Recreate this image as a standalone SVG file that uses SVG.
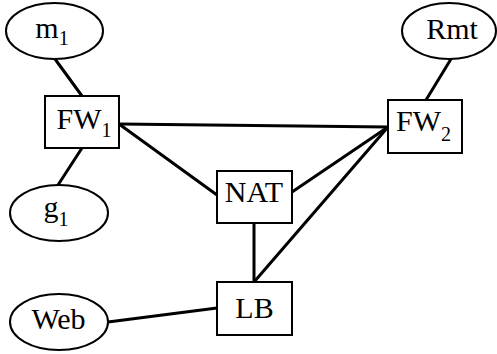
<svg xmlns="http://www.w3.org/2000/svg" width="497" height="354" viewBox="0 0 497 354">
  <style>
    .shape { fill: #ffffff; stroke: #000000; stroke-width: 2; }
    .edge { stroke: #000000; stroke-width: 3; stroke-linecap: round; fill: none; }
    .lbl { font-family: "Liberation Serif", "Times New Roman", serif; font-size: 30px; fill: #000000; text-anchor: middle; }
    .sub { font-size: 20px; }
  </style>
  <rect width="497" height="354" fill="#ffffff"/>

  <!-- links -->
  <g id="connectors">
    <line class="edge" x1="55" y1="59" x2="82" y2="96"/>
    <line class="edge" x1="82" y1="148" x2="58" y2="185"/>
    <line class="edge" x1="119" y1="124" x2="388" y2="127"/>
    <line class="edge" x1="119" y1="124" x2="217" y2="195"/>
    <line class="edge" x1="451" y1="59" x2="426" y2="100"/>
    <line class="edge" x1="388" y1="127" x2="292" y2="192"/>
    <line class="edge" x1="388" y1="127" x2="254" y2="282"/>
    <line class="edge" x1="254" y1="222" x2="254" y2="282"/>
    <line class="edge" x1="108" y1="322" x2="217" y2="308"/>
  </g>

  <g id="m1">
    <ellipse class="shape" cx="54.5" cy="31" rx="48.5" ry="28"/>
    <text class="lbl" x="52" y="38">m<tspan class="sub" dy="7">1</tspan></text>
  </g>

  <g id="fw1">
    <rect class="shape" x="45" y="96" width="74" height="52"/>
    <text class="lbl" x="84" y="129">FW<tspan class="sub" dy="8">1</tspan></text>
  </g>

  <g id="g1">
    <ellipse class="shape" cx="59" cy="213" rx="49" ry="28"/>
    <text class="lbl" x="56" y="217">g<tspan class="sub" dy="9">1</tspan></text>
  </g>

  <g id="rmt">
    <ellipse class="shape" cx="449" cy="31" rx="47" ry="28"/>
    <text class="lbl" x="452" y="39">Rmt</text>
  </g>

  <g id="fw2">
    <rect class="shape" x="388" y="100" width="74" height="53"/>
    <text class="lbl" x="423.5" y="131">FW<tspan class="sub" dy="10">2</tspan></text>
  </g>

  <g id="nat">
    <rect class="shape" x="217" y="171" width="75" height="52"/>
    <text class="lbl" x="254" y="202">NAT</text>
  </g>

  <g id="lb">
    <rect class="shape" x="217" y="282" width="75" height="53"/>
    <text class="lbl" x="254.5" y="318">LB</text>
  </g>

  <g id="web">
    <ellipse class="shape" cx="59" cy="322" rx="49" ry="28"/>
    <text class="lbl" x="58.5" y="329">Web</text>
  </g>
</svg>
